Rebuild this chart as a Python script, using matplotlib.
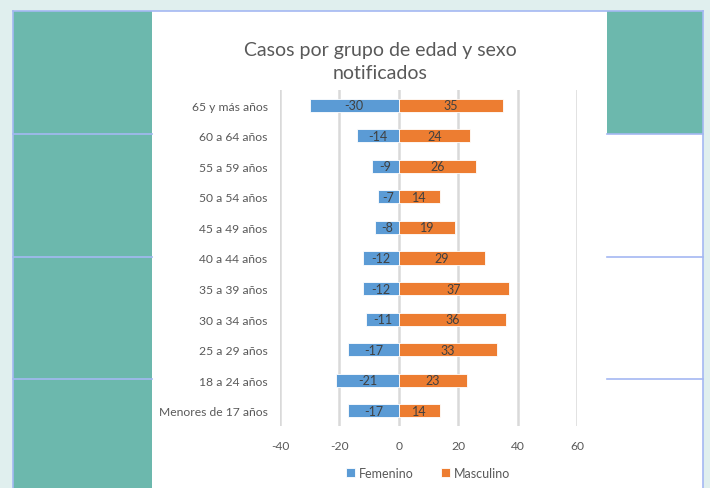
import numpy as np
import matplotlib.pyplot as plt
from matplotlib.patches import Rectangle
from matplotlib.lines import Line2D

# data
grupos = ['65 y más años', '60 a 64 años', '55 a 59 años', '50 a 54 años',
          '45 a 49 años', '40 a 44 años', '35 a 39 años', '30 a 34 años',
          '25 a 29 años', '18 a 24 años', 'Menores de 17 años']
femenino = [-30, -14, -9, -7, -8, -12, -12, -11, -17, -21, -17]
masculino = [35, 24, 26, 14, 19, 29, 37, 36, 33, 23, 14]
xticks = [-40, -20, 0, 20, 40, 60]

plt.rcParams['font.family'] = ['Lato', 'DejaVu Sans']
plt.rcParams['axes.unicode_minus'] = False

W, H = 710, 489
fig = plt.figure(figsize=(W / 100, H / 100), dpi=100)
fig.patch.set_facecolor('#e0efee')

def box(x0, y0, x1, y1, color):
    # pixel coords from top-left
    fig.patches.append(Rectangle((x0 / W, 1 - y1 / H), (x1 - x0) / W, (y1 - y0) / H,
                                 transform=fig.transFigure, facecolor=color,
                                 edgecolor='none', zorder=-2))

def hline(x0, x1, y, color='#a4b8f2'):
    fig.lines.append(Line2D([x0 / W, x1 / W], [1 - y / H, 1 - y / H],
                            transform=fig.transFigure, color=color, lw=1.2, zorder=-1))

def vline(x, y0, y1, color='#a4b8f2'):
    fig.lines.append(Line2D([x / W, x / W], [1 - y0 / H, 1 - y1 / H],
                            transform=fig.transFigure, color=color, lw=1.2, zorder=-1))

teal = '#6cb8ad'
box(13, 12, 703, 489, 'white')
box(13, 12, 152, 489, teal)
box(607, 12, 703, 135, teal)
hline(13, 703, 12)
vline(13, 12, 489)
vline(703, 12, 489)
for yy in [135, 258, 380]:
    hline(13, 152, yy)
hline(607, 703, 135)
hline(607, 703, 258)
hline(607, 703, 380)

ax = fig.add_axes([280 / W, 1 - 427 / H, 297 / W, 336 / H])
ax.set_facecolor('none')
y = np.arange(len(grupos))
bf = ax.barh(y, femenino, height=0.43, color='#5b9bd5', edgecolor='white', lw=0.6,
             label='Femenino', zorder=3)
bm = ax.barh(y, masculino, height=0.43, color='#ed7d31', edgecolor='white', lw=0.6,
             label='Masculino', zorder=3)
ax.bar_label(bf, label_type='center', fontsize=9, color='#404040')
ax.bar_label(bm, label_type='center', fontsize=9, color='#404040')

ax.set_xlim(-40, 60)
ax.set_ylim(len(grupos) - 0.5, -0.5)
ax.set_xticks(xticks)
ax.set_yticks(y)
ax.set_yticklabels(grupos)
ax.tick_params(axis='both', length=0, labelsize=8.7, colors='#595959')
ax.tick_params(axis='y', pad=9)
ax.tick_params(axis='x', pad=10)
ax.grid(axis='x', color='#d9d9d9', lw=1.8, zorder=0)
for s in ax.spines.values():
    s.set_visible(False)

fig.text(380 / W, 1 - 62 / H, 'Casos por grupo de edad y sexo\nnotificados',
         ha='center', va='center', fontsize=14, color='#595959', linespacing=1.38)

ax.legend(loc='center', bbox_to_anchor=(428 / W, 1 - 474 / H), bbox_transform=fig.transFigure,
          ncol=2, frameon=False, fontsize=9, handlelength=0.75, handleheight=0.75,
          handletextpad=0.3, columnspacing=2.2, labelcolor='#595959')

fig.savefig('out.png', dpi=100)
